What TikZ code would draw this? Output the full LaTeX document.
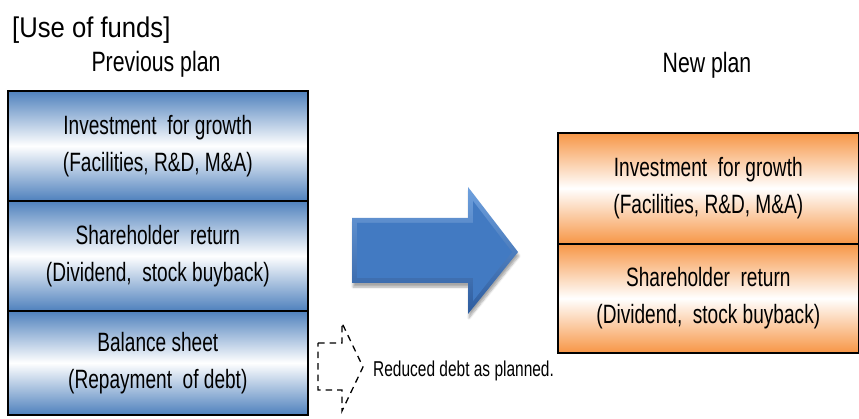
\documentclass[tikz,border=0pt]{standalone}
\usepackage{fontspec}
\setmainfont{Liberation Sans}
\newfontfamily\narrowfont[FakeStretch=0.72]{Liberation Sans}
\newfontfamily\titlefont[FakeStretch=0.76]{Liberation Sans}
\newfontfamily\headfont[FakeStretch=0.9]{Liberation Sans}
\usetikzlibrary{shadows.blur}
\definecolor{planblue}{RGB}{79,129,189}
\definecolor{planorange}{RGB}{247,150,70}
\definecolor{arrowblue}{RGB}{66,122,194}
\definecolor{arrowlight}{RGB}{110,160,222}
\definecolor{arrowdark}{RGB}{45,92,158}
\tikzset{
  fundbox/.style={draw=black, line width=1.6pt, anchor=north west,
    inner sep=0pt, align=center, font=\narrowfont\fontsize{26.5}{37}\selectfont},
  oldbox/.style={fundbox, top color=planblue, bottom color=planblue, middle color=white,
    minimum width=300pt},
  newbox/.style={fundbox, top color=planorange, bottom color=planorange, middle color=white,
    minimum width=301pt},
  heading/.style={anchor=base, inner sep=0pt, font=\titlefont\fontsize{28}{32}\selectfont},
  note/.style={anchor=base west, inner sep=0pt, font=\narrowfont\fontsize{21.5}{24}\selectfont},
  dashedarrow/.style={draw=black, line width=1.3pt, dash pattern=on 6.5pt off 5pt, line join=miter}
}
\begin{document}
\begin{tikzpicture}[x=1pt, y=-1pt]
\useasboundingbox (0,0) rectangle (859,419);

% titles
\node[anchor=base west, inner sep=0pt, font=\headfont\fontsize{28.5}{32}\selectfont]
  (title) at (12,38) {[Use of funds]};
\node[heading] (prevtitle) at (156,72) {Previous plan};
\node[heading] (newtitle) at (707,73) {New plan};

% previous plan
\node[oldbox, minimum height=110pt] (pinv) at (7,90)
  {Investment~ for growth\\(Facilities, R\&D, M\&A)};
\node[oldbox, minimum height=110pt] (psha) at (7,200)
  {Shareholder~ return\\(Dividend,~ stock buyback)};
\node[oldbox, minimum height=104pt] (pbal) at (7,310)
  {Balance sheet\\(Repayment~ of debt)};

% new plan
\node[newbox, minimum height=111pt] (ninv) at (557,132)
  {Investment~ for growth\\(Facilities, R\&D, M\&A)};
\node[newbox, minimum height=109pt] (nsha) at (557,243)
  {Shareholder~ return\\(Dividend,~ stock buyback)};

% big block arrow with bevel
\path[blur shadow={shadow xshift=1pt, shadow yshift=-4pt, shadow opacity=35, shadow blur steps=6},
      top color=arrowlight, bottom color=arrowdark]
  (352,218) -- (468,218) -- (468,187) -- (518,252) -- (468,314)
  -- (468,283) -- (352,283) -- cycle;
\fill[arrowblue]
  (357,223) -- (473,223) -- (473,201) -- (512,252) -- (473,301)
  -- (473,278) -- (357,278) -- cycle;

% dashed outline arrow and its note
\draw[dashedarrow]
  (318,343) -- (342,343) -- (342,323) -- (363,367) -- (342,411)
  -- (342,390) -- (318,390) -- cycle;
\node[note] (debtnote) at (373,376) {Reduced debt as planned.};
\end{tikzpicture}
\end{document}
